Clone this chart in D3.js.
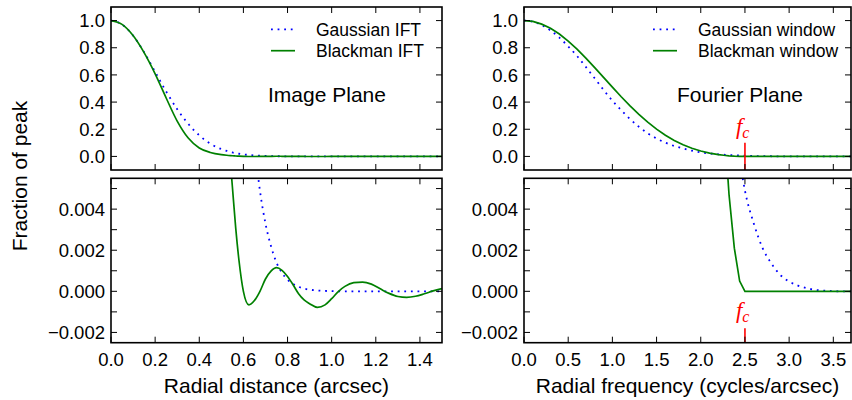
<!DOCTYPE html>
<html>
<head>
<meta charset="utf-8">
<script src="https://cdn.jsdelivr.net/npm/d3@7"></script>
<style>
  body { margin: 0; background: #fff; }
  text { font-family: "Liberation Sans", Arial, sans-serif; fill: #000; }
  .spine { fill: none; stroke: #000; stroke-width: 1.6; }
  .tick { stroke: #000; stroke-width: 1; }
</style>
</head>
<body>
<svg id="vis" width="852" height="400"></svg>
<script>
// image plane (radial distance, arcsec)
const imgX = [0, 0.05, 0.1, 0.15, 0.2, 0.25, 0.3, 0.35, 0.4, 0.45, 0.5, 0.525, 0.55, 0.565, 0.58,
  0.6, 0.625, 0.65, 0.675, 0.7, 0.725, 0.75, 0.775, 0.8, 0.825, 0.85, 0.875, 0.9, 0.935, 0.97,
  1.0, 1.03, 1.06, 1.1, 1.14, 1.18, 1.22, 1.26, 1.3, 1.34, 1.38, 1.42, 1.46, 1.5];
const gaussIFT = [1, 0.971, 0.89, 0.767, 0.622, 0.478, 0.348, 0.24, 0.155, 0.094, 0.054, 0.040, 0.029, 0.024, 0.0197,
  0.015, 0.0105, 0.0072, 0.0049, 0.0033, 0.0022, 0.0014, 0.0009, 0.00057, 0.00036, 0.00022, 0.00013, 0.00008, 0.00004, 0.00002,
  0.00001, 0, 0, 0, 0, 0, 0, 0, 0, 0, 0, 0, 0, 0];
const blackIFT = [1, 0.972, 0.89, 0.764, 0.608, 0.43, 0.26, 0.135, 0.062, 0.029, 0.013, 0.0085, 0.0051, 0.0031, 0.0015,
  0.0, -0.00066, -0.00045, 0.0, 0.0006, 0.00098, 0.00115, 0.00102, 0.00072, 0.00032, -0.00012, -0.00042, -0.0006, -0.00078, -0.00066,
  -0.00036, -0.00001, 0.00024, 0.00042, 0.00045, 0.00035, 0.00012, -0.0001, -0.00025, -0.00029, -0.00024, -0.00012, 0.00002, 0.00013];

// fourier plane (radial frequency, cycles/arcsec)
const freqX = [0, 0.1, 0.2, 0.3, 0.4, 0.5, 0.6, 0.7, 0.8, 0.9, 1.0, 1.1, 1.2, 1.3, 1.4, 1.5, 1.6, 1.7, 1.8, 1.9,
  2.0, 2.1, 2.2, 2.26, 2.32, 2.38, 2.44, 2.5, 2.6, 2.7, 2.8, 2.9, 3.0, 3.1, 3.2, 3.3, 3.4, 3.5, 3.6, 3.7];
const gaussWin = [1, 0.992, 0.967, 0.927, 0.875, 0.81, 0.74, 0.658, 0.575, 0.49, 0.41, 0.34, 0.275, 0.218, 0.17, 0.132, 0.101, 0.077, 0.058, 0.042,
  0.030, 0.022, 0.0155, 0.0125, 0.0101, 0.0081, 0.0064, 0.0049, 0.0033, 0.0021, 0.00135, 0.0008, 0.00048, 0.00028, 0.00015, 0.00007, 0.00003, 0.00001, 0, 0];
const blackWin = [1, 0.994, 0.974, 0.943, 0.901, 0.849, 0.79, 0.724, 0.654, 0.582, 0.51, 0.439, 0.372, 0.309, 0.252, 0.201, 0.156, 0.118, 0.086, 0.0605,
  0.040, 0.0247, 0.0134, 0.0085, 0.0047, 0.0021, 0.0005, 0, 0, 0, 0, 0, 0, 0, 0, 0, 0, 0, 0, 0];

const fc = 2.5;
const topTicks = [0, 0.2, 0.4, 0.6, 0.8, 1.0];
const lowTicks = [-0.002, -0.001, 0, 0.001, 0.002, 0.003, 0.004, 0.005];
const lowLabels = [-0.002, 0, 0.002, 0.004];
const imgTicks = [0, 0.2, 0.4, 0.6, 0.8, 1.0, 1.2, 1.4];
const freqTicks = [0, 0.5, 1.0, 1.5, 2.0, 2.5, 3.0, 3.5];

const svg = d3.select("svg#vis");
const fmt1 = d3.format(".1f");
const fmt3 = d3.format(".3f");

const cols = {
  left:  { x0: 111, x1: 442, domain: [0, 1.5], ticks: imgTicks, xs: imgX,
           gauss: gaussIFT, black: blackIFT, blackCurve: d3.curveMonotoneX,
           label: "Radial distance (arcsec)", title: "Image Plane", legX: 271,
           names: ["Gaussian IFT", "Blackman IFT"], fc: false },
  right: { x0: 524, x1: 851, domain: [0, 3.7], ticks: freqTicks, xs: freqX,
           gauss: gaussWin, black: blackWin, blackCurve: d3.curveLinear,
           label: "Radial frequency (cycles/arcsec)", title: "Fourier Plane", legX: 653,
           names: ["Gaussian window", "Blackman window"], fc: true }
};
const rows = {
  top:    { y0: 7, y1: 170, domain: [-0.1, 1.1], ticks: topTicks, labels: topTicks, fmt: fmt1 },
  bottom: { y0: 178.3, y1: 342.7, domain: [-0.0025, 0.0055], ticks: lowTicks, labels: lowLabels, fmt: fmt3 }
};

let clipId = 0;

function drawPanel(c, r, rowName) {
  const x = d3.scaleLinear().domain(c.domain).range([c.x0, c.x1]);
  const y = d3.scaleLinear().domain(r.domain).range([r.y1, r.y0]);
  const g = svg.append("g");

  const id = "clip" + (clipId++);
  svg.append("clipPath").attr("id", id).append("rect")
    .attr("x", c.x0).attr("y", r.y0).attr("width", c.x1 - c.x0).attr("height", r.y1 - r.y0);

  const plot = g.append("g").attr("clip-path", "url(#" + id + ")");

  const gaussLine = d3.line().curve(d3.curveMonotoneX)
    .x((d, i) => x(c.xs[i])).y(d => y(d));
  const blackLine = d3.line().curve(c.blackCurve)
    .x((d, i) => x(c.xs[i])).y(d => y(d));

  plot.append("path").attr("d", gaussLine(c.gauss))
    .attr("fill", "none").attr("stroke", "#0000ff")
    .attr("stroke-width", 1.8).attr("stroke-dasharray", "1.8,4.8");
  plot.append("path").attr("d", blackLine(c.black))
    .attr("fill", "none").attr("stroke", "#008000").attr("stroke-width", 1.7);

  // f_c marker
  if (c.fc) {
    const yl = rowName == "top" ? [0.1, -0.1] : [-0.0018, -0.0025];
    const yt = rowName == "top" ? 0.167 : -0.00128;
    plot.append("line").attr("x1", x(fc)).attr("x2", x(fc))
      .attr("y1", y(yl[0])).attr("y2", y(yl[1]))
      .attr("stroke", "#ff0000").attr("stroke-width", 1.6);
    const t = g.append("text").attr("x", x(fc) - 9).attr("y", y(yt))
      .style("font-family", "'Liberation Serif', 'DejaVu Serif', serif")
      .style("font-style", "italic").style("fill", "#ff0000").style("font-size", "23px");
    t.append("tspan").text("f");
    t.append("tspan").attr("dy", 4).style("font-size", "16px").text("c");
  }

  // ticks, inward on all four sides
  const tl = 6;
  c.ticks.forEach(function(v) {
    g.append("line").attr("class", "tick").attr("x1", x(v)).attr("x2", x(v))
      .attr("y1", r.y1).attr("y2", r.y1 - tl);
    g.append("line").attr("class", "tick").attr("x1", x(v)).attr("x2", x(v))
      .attr("y1", r.y0).attr("y2", r.y0 + tl);
  });
  r.ticks.forEach(function(v) {
    g.append("line").attr("class", "tick").attr("x1", c.x0).attr("x2", c.x0 + tl)
      .attr("y1", y(v)).attr("y2", y(v));
    g.append("line").attr("class", "tick").attr("x1", c.x1).attr("x2", c.x1 - tl)
      .attr("y1", y(v)).attr("y2", y(v));
  });

  g.selectAll("text.ylab").data(r.labels).enter().append("text")
    .attr("class", "ylab")
    .attr("x", c.x0 - 6).attr("y", d => y(d)).attr("dy", "0.36em")
    .attr("text-anchor", "end").style("font-size", "18.5px")
    .text(d => r.fmt(d).replace("-", "\u2212"));

  if (rowName == "bottom") {
    g.selectAll("text.xlab").data(c.ticks).enter().append("text")
      .attr("class", "xlab")
      .attr("x", d => x(d)).attr("y", 366)
      .attr("text-anchor", "middle").style("font-size", "18.5px")
      .text(d => fmt1(d));
    g.append("text").attr("x", (c.x0 + c.x1) / 2).attr("y", 393)
      .attr("text-anchor", "middle").style("font-size", "21px").text(c.label);
  } else {
    g.append("text").attr("x", c.x0 + 216).attr("y", 102)
      .attr("text-anchor", "middle").style("font-size", "21px").text(c.title);

    // legend
    const lx = c.legX;
    [0, 1].forEach(function(k) {
      const ly = 29.3 + k * 21.4;
      g.append("line").attr("x1", lx).attr("x2", lx + 24).attr("y1", ly).attr("y2", ly)
        .attr("stroke", k == 0 ? "#0000ff" : "#008000")
        .attr("stroke-width", k == 0 ? 1.8 : 1.7)
        .attr("stroke-dasharray", k == 0 ? "1.8,4.8" : null);
      g.append("text").attr("x", lx + 45).attr("y", ly).attr("dy", "0.36em")
        .style("font-size", "17.5px").text(c.names[k]);
    });
  }

  g.append("rect").attr("class", "spine")
    .attr("x", c.x0).attr("y", r.y0).attr("width", c.x1 - c.x0).attr("height", r.y1 - r.y0);
}

drawPanel(cols.left, rows.top, "top");
drawPanel(cols.left, rows.bottom, "bottom");
drawPanel(cols.right, rows.top, "top");
drawPanel(cols.right, rows.bottom, "bottom");

svg.append("text")
  .attr("transform", "translate(27,176) rotate(-90)")
  .attr("text-anchor", "middle").style("font-size", "21px")
  .text("Fraction of peak");
</script>
</body>
</html>
